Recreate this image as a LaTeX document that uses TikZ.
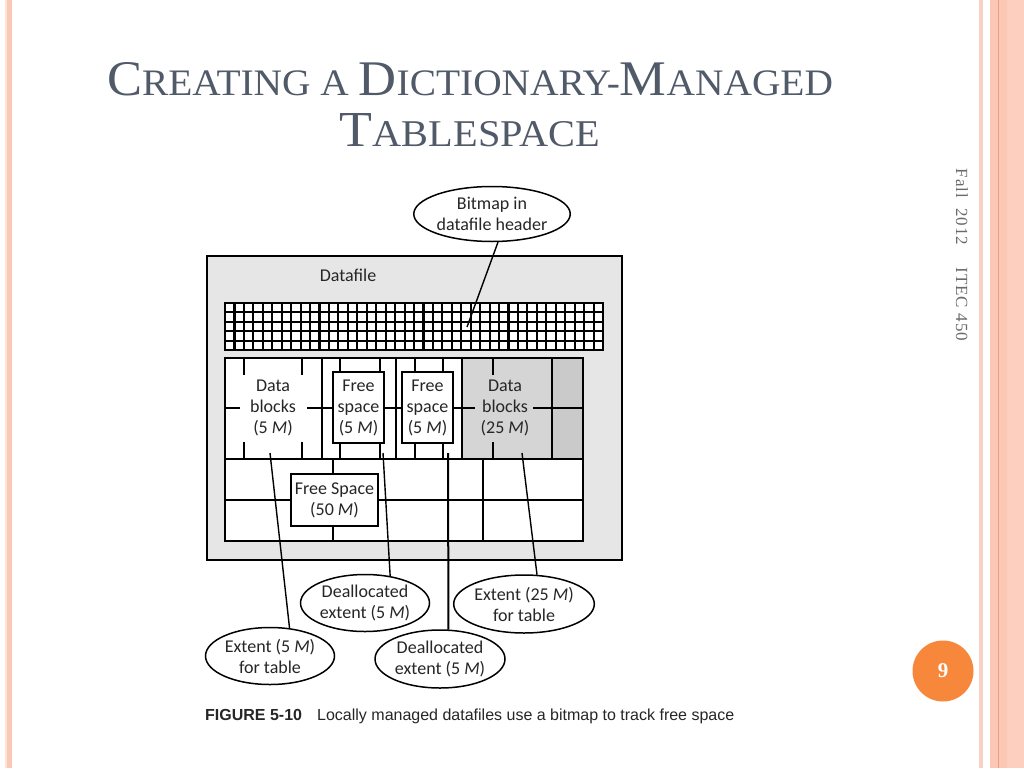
\documentclass[tikz,border=0pt]{standalone}
\usepackage{fontspec}
\usepackage{graphicx}
\setmainfont{Carlito}
\newfontfamily\titlefam{Liberation Serif}
\newfontfamily\sidefam{Liberation Serif}
\newfontfamily\capfam{Liberation Sans}
\usetikzlibrary{shapes.geometric}
\definecolor{titlegray}{HTML}{515A69}
\definecolor{sidegray}{HTML}{6A6A6A}
\definecolor{textgray}{HTML}{262626}
\definecolor{filegray}{HTML}{E6E6E6}
\definecolor{blockgray}{HTML}{D5D5D5}
\definecolor{blockgrayB}{HTML}{CACACA}
\definecolor{pinkA}{HTML}{FCC8B5}
\definecolor{pinkB}{HTML}{FAD0C4}
\definecolor{pinkC}{HTML}{FDCFBE}
\definecolor{pinkD}{HTML}{E8A287}
\definecolor{creamA}{HTML}{FBE5D8}
\definecolor{pageorange}{HTML}{F7873B}
\newcommand{\mysc}[2]{{\fontsize{48}{48}\selectfont #1}{\fontsize{36}{36}\selectfont #2}}
\newcommand{\dtext}{\fontsize{18}{21}\selectfont}
\tikzset{
  frame/.style={draw=black, line width=2.6pt},
  gridline/.style={line width=2.1pt},
  inner/.style={line width=1.9pt},
  boxlbl/.style={draw, fill=white, line width=2.3pt, inner sep=0pt, align=center, font=\dtext, text=textgray},
  bubble/.style={ellipse, draw, fill=white, line width=1.5pt, inner sep=0pt, align=center, font=\dtext, text=textgray, minimum width=129pt, minimum height=57pt},
  conn/.style={line width=1.4pt},
  lbl/.style={align=center, font=\dtext, text=textgray, inner sep=0pt},
}
\begin{document}
\begin{tikzpicture}[x=1pt,y=-1pt]
\useasboundingbox (0,0) rectangle (1024,768);
\fill[white] (0,0) rectangle (1024,768);
% page borders
\fill[creamA] (5,0) rectangle (7,768);
\fill[pinkA] (7,0) rectangle (12,768);
\fill[pinkB] (979,0) rectangle (983,768);
\fill[pinkA] (990,0) rectangle (1024,768);
\fill[pinkC] (1007,0) rectangle (1024,768);
\draw[pinkD, line width=1pt] (998,0) -- (998,768);

% title
\node[anchor=base, inner sep=0pt, text=titlegray, font=\titlefam\fontsize{36}{36}\selectfont] (title1) at (470,95)
  {\resizebox{726pt}{33pt}{\mysc{C}{REATING} \mysc{}{A} \mysc{D}{ICTIONARY}-\mysc{M}{ANAGED}}};
\node[anchor=base, inner sep=0pt, text=titlegray, font=\titlefam\fontsize{36}{36}\selectfont] (title2) at (470,146)
  {\resizebox{260pt}{33pt}{\mysc{T}{ABLESPACE}}};

% side text
\node[rotate=-90, inner sep=0pt, text=sidegray, font=\sidefam\fontsize{17}{17}\selectfont\addfontfeature{LetterSpace=6}] (side) at (962,255)
  {Fall\hspace{10pt}2012\hspace{22pt}ITEC 450};

% page number
\node[circle, fill=pageorange, minimum size=61pt, inner sep=0pt, text=white, font=\sidefam\bfseries\fontsize{21}{21}\selectfont] (page) at (943,671) {9};

% datafile
\draw[frame, fill=filegray] (207,256) rectangle (622,560);
\node[lbl] (dflabel) at (348,275) {Datafile};

% bitmap grid
\fill[white] (225,303) rectangle (603,350);
\foreach \i in {1,...,39} \draw[gridline] ({225+\i*9.45},303) -- ({225+\i*9.45},350);
\foreach \j in {1,...,4} \draw[gridline] (225,{303+\j*9.4}) -- (603,{303+\j*9.4});
\draw[frame] (225,303) rectangle (603,350);

% extent table
\fill[white] (225,358) rectangle (583,541);
\fill[blockgray] (462,358) rectangle (552,459);
\fill[blockgrayB] (552,358) rectangle (583,459);
\draw[inner] (225,459) -- (583,459);
\draw[inner] (225,500) -- (583,500);
\foreach \x in {322,396,462,552} \draw[inner] (\x,358) -- (\x,459);
\foreach \x in {333,483} \draw[inner] (\x,459) -- (\x,541);
\foreach \x in {244,302,493} {\draw[inner] (\x,358) -- (\x,375); \draw[inner] (\x,442) -- (\x,459);}
\foreach \x in {340,380,415,443} {\draw[inner] (\x,358) -- (\x,372); \draw[inner] (\x,443) -- (\x,459);}
\draw[inner] (225,408) -- (240,408);
\draw[inner] (307,408) -- (333,408);
\draw[inner] (384,408) -- (402,408);
\draw[inner] (453,408) -- (475,408);
\draw[inner] (533,408) -- (583,408);
\draw[frame] (225,358) rectangle (583,541);

% labels and boxes
\node[lbl] (db5) at (273,408) {Data\\blocks\\(5 \textit{M})};
\node[lbl] (db25) at (505,408) {Data\\blocks\\(25 \textit{M})};
\node[boxlbl, minimum width=51pt, minimum height=71pt] (fs1) at (358.5,407.5) {Free\\space\\(5 \textit{M})};
\node[boxlbl, minimum width=51pt, minimum height=71pt] (fs2) at (427.5,407.5) {Free\\space\\(5 \textit{M})};
\node[boxlbl, minimum width=87pt, minimum height=52pt] (fs50) at (334.5,500) {Free Space\\(50 \textit{M})};

% connector ends
\coordinate (pbit) at (467,327);
\coordinate (pext5) at (270,453);
\coordinate (pdeal1) at (383,453);
\coordinate (pdeal2) at (448,453);
\coordinate (pext25) at (522,453);

% callouts
\node[bubble, minimum width=141pt, minimum height=55pt] (bitmap) at (492,214) {Bitmap in\\datafile header};
\node[bubble] (ext5) at (270,656) {Extent (5 \textit{M})\\for table};
\node[bubble] (deal1) at (365,603) {Deallocated\\extent (5 \textit{M})};
\node[bubble, minimum width=130pt, minimum height=58pt] (deal2) at (440,659) {Deallocated\\extent (5 \textit{M})};
\node[bubble, minimum width=130pt, minimum height=58pt] (ext25) at (524,604) {Extent (25 \textit{M})\\for table};

\draw[conn] (bitmap.-78) -- (pbit);
\draw[conn] (pext5) -- (ext5.55);
\draw[conn] (pdeal1) -- (deal1.47);
\draw[conn, line width=2pt] (pdeal2) -- (deal2.74);
\draw[conn] (pext25) -- (ext25.66);

% caption
\node[anchor=base west, inner sep=0pt, text=textgray, font=\capfam\bfseries\fontsize{16}{16}\selectfont] (figno) at (205,720) {FIGURE 5-10};
\node[anchor=base west, inner sep=0pt, text=textgray, font=\capfam\fontsize{16}{16}\selectfont] (figtext) at (317,720) {Locally managed datafiles use a bitmap to track free space};
\end{tikzpicture}
\end{document}
